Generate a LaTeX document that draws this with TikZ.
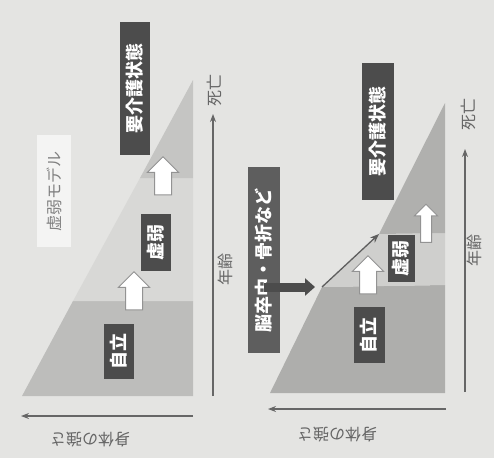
\documentclass[tikz,border=0pt]{standalone}
\usepackage{fontspec}
\setmainfont{Noto Sans CJK JP}
\usetikzlibrary{arrows.meta,shapes.arrows}
\definecolor{paper}{HTML}{E4E4E2}
\definecolor{boxdark}{HTML}{4C4C4C}
\definecolor{axisgray}{HTML}{666666}
\definecolor{bandA}{HTML}{BDBDBB}
\definecolor{bandB}{HTML}{D8D8D6}
\definecolor{bandC}{HTML}{C5C5C3}
\definecolor{bandD}{HTML}{AEAEAC}
\definecolor{bandE}{HTML}{CFCFCD}
\definecolor{bandF}{HTML}{B0B0AE}
\tikzset{
    stage/.style={rectangle,fill=boxdark,text=white,rotate=90,inner xsep=3pt,inner ysep=0pt,
        minimum height=30,font=\fontsize{18}{18}\selectfont\bfseries},
    rise/.style={single arrow,draw=gray!85,fill=white,line width=1pt,rotate=90,inner xsep=0pt,
        inner ysep=8pt,single arrow head extend=7pt,minimum width=30,minimum height=38},
    axis/.style={-{Stealth[length=8pt,width=6pt]},draw=axisgray,line width=1.2pt},
    axislabel/.style={text=axisgray,inner sep=1pt,font=\fontsize{16}{16}\selectfont},
    hit/.style={draw=boxdark,line width=9pt,-{Triangle[length=10pt,width=17pt]}},
    fall/.style={draw=boxdark!90,line width=1.3pt,-{Stealth[length=9pt,width=7pt]}}
}
\newcommand{\px}{1pt}

\begin{document}
\begin{tikzpicture}[x=\px,y=-\px]
\useasboundingbox (0,0) rectangle (494,458);
\fill[paper] (0,0) rectangle (494,458);

% frailty model
\fill[bandA] (22,396) -- (193,396) -- (193,301) -- (73,301) -- cycle;
\fill[bandB] (73,301) -- (193,301) -- (193,178) -- (140,178) -- cycle;
\fill[bandC] (140,178) -- (193,178) -- (193,80) -- cycle;

\node[rectangle,fill=white!60!paper,text=gray,rotate=90,minimum width=112,minimum height=34,
    font=\fontsize{16}{16}\selectfont] (model) at (54,191) {虚弱モデル};
\node[stage,minimum width=133] (care1) at (135,88) {要介護状態};
\node[stage,minimum width=57] (frail1) at (156,242) {虚弱};
\node[stage,minimum width=55] (indep1) at (119,351) {自立};
\node[rise] (up1) at (134,295) {};
\node[rise] (up2) at (163,180) {};

\coordinate (agebase1) at (213,396);
\coordinate (agetop1) at (213,114);
\coordinate (strbase1) at (193,416);
\coordinate (strtop1) at (21,416);
\draw[axis] (agebase1) -- (agetop1);
\draw[axis] (strbase1) -- (strtop1);
\node[axislabel,rotate=90] (death1) at (214,90) {死亡};
\node[axislabel,rotate=90] (age1) at (225,269) {年齢};
\node[axislabel,rotate=180] (str1) at (90,440) {身体の強さ};

% stroke / fracture
\coordinate (drop) at (322,287);
\coordinate (drop2) at (379,234);
\fill[bandD] (270,393) -- (445,393) -- (445,285) -- (drop) -- cycle;
\fill[bandE] (drop) -- (445,285) -- (445,233) -- (drop2) -- cycle;
\fill[bandF] (drop2) -- (445,233) -- (445,103) -- cycle;

\node[stage,minimum width=137,minimum height=32] (care2) at (378,131) {要介護状態};
\node[stage,minimum width=47,minimum height=27] (frail2) at (401,258) {虚弱};
\node[stage,minimum width=56,minimum height=31] (indep2) at (369,335) {自立};
\node[stage,minimum width=186,minimum height=32,fill=boxdark!90] (stroke) at (264,260) {脳卒中・骨折など};
\node[rise] (up3) at (368,279) {};
\node[rise,inner ysep=5pt,single arrow head extend=6pt,minimum width=23] (up4) at (426,226) {};

\draw[hit] (stroke.east |- drop) -- ([xshift=-7pt]drop);
\draw[fall] (drop) -- (drop2);

\coordinate (agebase2) at (465,392);
\coordinate (agetop2) at (465,149);
\coordinate (strbase2) at (446,409);
\coordinate (strtop2) at (268,409);
\draw[axis] (agebase2) -- (agetop2);
\draw[axis] (strbase2) -- (strtop2);
\node[axislabel,rotate=90] (death2) at (468,114) {死亡};
\node[axislabel,rotate=90] (age2) at (474,250) {年齢};
\node[axislabel,rotate=180] (str2) at (337,435) {身体の強さ};

\end{tikzpicture}
\end{document}
